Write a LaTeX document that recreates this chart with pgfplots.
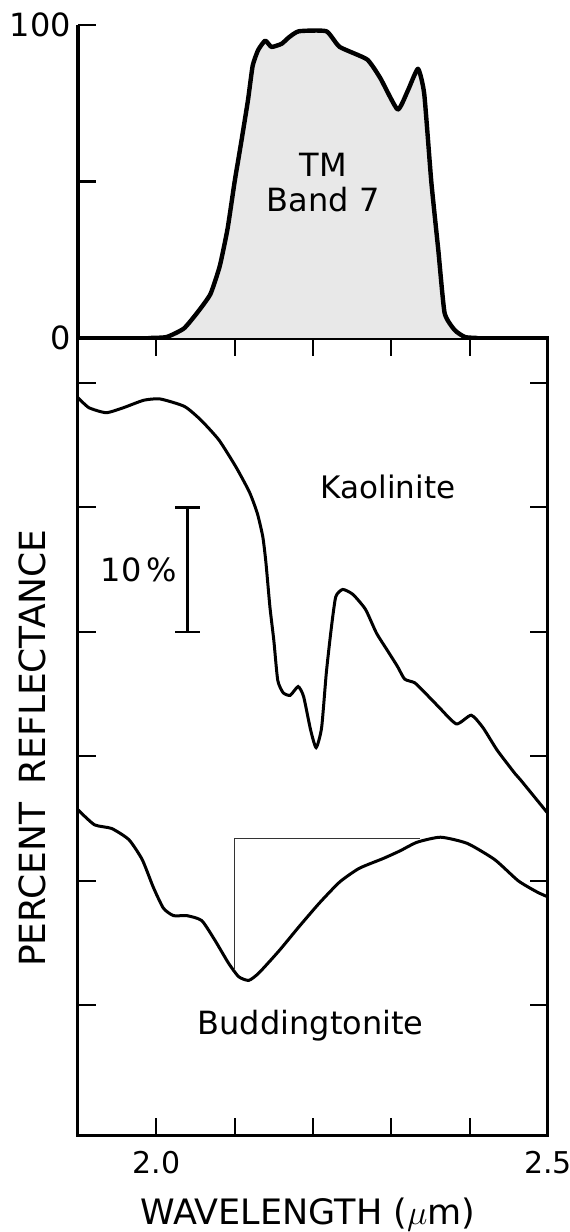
\documentclass[border=0pt]{standalone}
\usepackage{fontspec}
\setmainfont{DejaVu Sans}
\usepackage{pgfplots}
\pgfplotsset{compat=1.18}
\begin{document}
\begin{tikzpicture}
\useasboundingbox (-39pt,-48pt) rectangle (245.5pt,568pt);
% ---------------- lower panel ----------------
\begin{axis}[
  at={(0,0)}, anchor=south west,
  scale only axis, width=235pt, height=399pt,
  xmin=1.9, xmax=2.5, ymin=-10.5, ymax=53.6,
  xtick={2.0,2.1,2.2,2.3,2.4,2.5},
  xticklabels={2.0,,,,,2.5},
  ytick={0,10,20,30,40,50}, yticklabels={},
  tick align=inside, major tick length=9pt,
  xtick pos=both, ytick pos=both,
  tick style={line width=1pt, black},
  axis line style={line width=1.5pt},
  /pgf/number format/assume math mode=true,
  xticklabel style={font=\fontsize{15}{18}\selectfont, yshift=-4pt},
  xlabel={WAVELENGTH ($\mu$m)},
  xlabel style={font=\fontsize{17.5}{20}\selectfont, at={(axis description cs:0.489,-0.098)}, anchor=center},
  ylabel={PERCENT\hspace{0.5em}REFLECTANCE},
  ylabel style={font=\fontsize{18}{20}\selectfont, at={(axis description cs:-0.098,0.486)}, anchor=center},
]
% Kaolinite
\addplot[line width=1.5pt, smooth, tension=0.35] coordinates {
(1.900,48.8)(1.914,48.0)(1.936,47.6)(1.958,48.0)(1.984,48.6)(2.005,48.7)
(2.036,48.1)(2.057,47.0)(2.080,45.4)(2.102,43.2)(2.119,41.2)(2.129,39.5)
(2.136,37.6)(2.140,35.5)(2.145,32.0)(2.150,29.3)(2.155,26.1)(2.162,25.1)
(2.171,24.9)(2.181,25.6)(2.188,24.8)(2.197,22.1)(2.204,20.7)(2.211,22.3)
(2.217,26.7)(2.223,30.1)(2.229,32.8)(2.238,33.4)(2.251,33.0)(2.267,31.8)
(2.281,29.9)(2.295,28.5)(2.308,27.2)(2.317,26.2)(2.330,25.9)(2.343,25.1)
(2.360,24.0)(2.383,22.6)(2.402,23.3)(2.417,22.3)(2.435,20.5)(2.458,18.6)
(2.465,18.1)(2.500,15.4)};
% Buddingtonite
\addplot[line width=1.5pt, smooth, tension=0.35] coordinates {
(1.900,15.7)(1.921,14.5)(1.943,14.2)(1.965,13.3)(1.982,11.7)(1.996,9.5)
(2.009,7.8)(2.022,7.2)(2.039,7.2)(2.058,6.8)(2.075,5.2)(2.092,3.4)
(2.105,2.3)(2.118,2.0)(2.131,2.6)(2.157,4.4)(2.182,6.3)(2.208,8.2)
(2.234,9.9)(2.259,11.0)(2.290,11.8)(2.311,12.4)(2.333,13.1)(2.363,13.5)
(2.397,13.0)(2.432,11.7)(2.462,10.0)(2.486,9.1)(2.500,8.7)};
% continuum line
\addplot[line width=0.6pt, black!80] coordinates {(2.1,2.8)(2.1,13.4)(2.336,13.4)};
% 10% scale bar
\addplot[line width=1.2pt] coordinates {(2.040,30)(2.040,40)};
\addplot[line width=1.2pt] coordinates {(2.024,40)(2.056,40)};
\addplot[line width=1.2pt] coordinates {(2.024,30)(2.056,30)};
\node[font=\fontsize{16}{19}\selectfont] at (axis cs:1.978,35) {10\,\%};
\node[font=\fontsize{15.5}{19}\selectfont] at (axis cs:2.296,41.6) {Kaolinite};
\node[font=\fontsize{16}{19}\selectfont] at (axis cs:2.197,-1.6) {Buddingtonite};
\end{axis}
% ---------------- top panel ----------------
\begin{axis}[
  at={(0,399pt)}, anchor=south west,
  scale only axis, width=235pt, height=156.5pt,
  xmin=1.9, xmax=2.5, ymin=0, ymax=100,
  axis x line=bottom, axis y line=left,
  axis line style={-, line width=1.6pt},
  xtick=\empty, ytick={0,50,100}, yticklabels={0,,100},
  tick align=inside, major tick length=9pt,
  tick style={line width=1.2pt, black},
  /pgf/number format/assume math mode=true,
  yticklabel style={font=\fontsize{16}{19}\selectfont},
]
\addplot[draw=none, fill=black!9, smooth, tension=0.3] coordinates {
(2.013,0)(2.035,3)(2.052,8)(2.069,14)(2.081,23)(2.091,35)(2.100,50)(2.108,62)
(2.117,76)(2.123,87)(2.130,92)(2.139,95)(2.147,93)(2.160,94)(2.169,96)
(2.182,98)(2.217,98)(2.234,93)(2.269,89)(2.286,83)(2.308,73)(2.321,79)
(2.334,86)(2.342,78)(2.351,50)(2.360,28)(2.368,8)(2.381,2.5)(2.394,0)} \closedcycle;
\addplot[line width=2.2pt, line join=round, smooth, tension=0.3] coordinates {
(1.990,0)(2.013,0.3)(2.035,3)(2.052,8)(2.069,14)(2.081,23)(2.091,35)(2.100,50)(2.108,62)
(2.117,76)(2.123,87)(2.130,92)(2.139,95)(2.147,93)(2.160,94)(2.169,96)
(2.182,98)(2.217,98)(2.234,93)(2.269,89)(2.286,83)(2.308,73)(2.321,79)
(2.334,86)(2.342,78)(2.351,50)(2.360,28)(2.368,8)(2.381,2.5)(2.394,0.3)(2.410,0)};
\node[font=\fontsize{16}{17.5}\selectfont, align=center] at (axis cs:2.213,49.7) {TM\\Band 7};
\end{axis}
\end{tikzpicture}
\end{document}
